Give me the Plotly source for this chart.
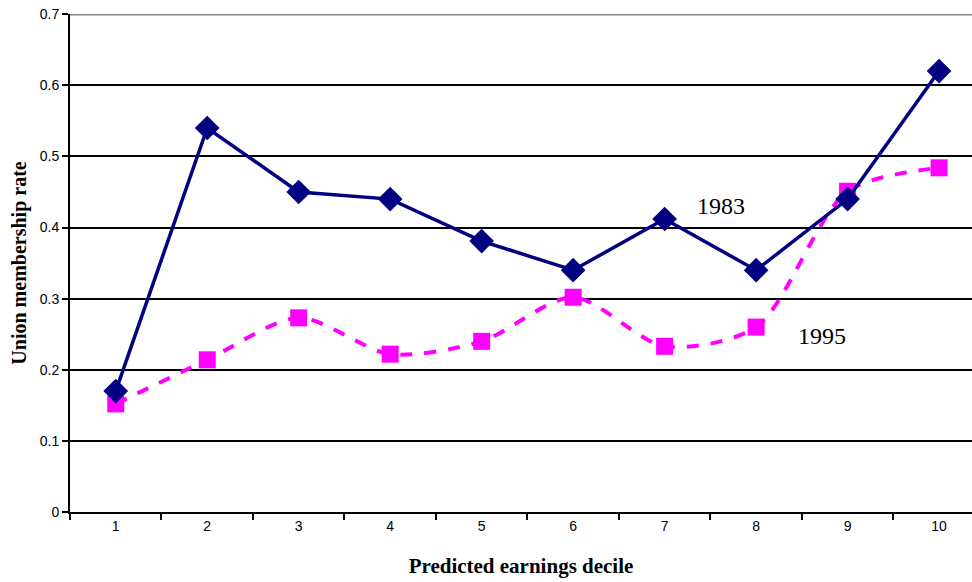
import plotly.graph_objects as go

deciles = [1, 2, 3, 4, 5, 6, 7, 8, 9, 10]
rate_1983 = [0.17, 0.54, 0.45, 0.44, 0.381, 0.34, 0.412, 0.34, 0.44, 0.62]
rate_1995 = [0.152, 0.214, 0.273, 0.222, 0.24, 0.302, 0.233, 0.26, 0.451, 0.484]
y_ticks = [0, 0.1, 0.2, 0.3, 0.4, 0.5, 0.6, 0.7]
y_tick_labels = ["0", "0.1", "0.2", "0.3", "0.4", "0.5", "0.6", "0.7"]

fig = go.Figure()
fig.add_trace(go.Scatter(
    x=deciles, y=rate_1995, mode="lines+markers", name="1995",
    line=dict(color="#FF00FF", width=4, dash="12px,12px", shape="spline", smoothing=0.8),
    marker=dict(symbol="square", size=17, color="#FF00FF"),
    cliponaxis=False,
))
fig.add_trace(go.Scatter(
    x=deciles, y=rate_1983, mode="lines+markers", name="1983",
    line=dict(color="#000080", width=3.5),
    marker=dict(symbol="diamond", size=19, color="#000080"),
    cliponaxis=False,
))

fig.add_annotation(x=7.62, y=0.43, text="1983", showarrow=False,
                   font=dict(family="Liberation Serif", size=24, color="black"))
fig.add_annotation(x=8.72, y=0.248, text="1995", showarrow=False,
                   font=dict(family="Liberation Serif", size=24, color="black"))

# top border of the plot area (grey)
fig.add_shape(type="line", xref="paper", yref="y", x0=0, x1=1, y0=0.7, y1=0.7,
              line=dict(color="#8c7f8c", width=2.5), layer="above")

fig.update_layout(
    width=972, height=582,
    margin=dict(l=70, r=0, t=14, b=70),
    paper_bgcolor="white", plot_bgcolor="white",
    showlegend=False,
    xaxis=dict(
        range=[0.5, 10.36], tickvals=deciles, ticktext=[str(d) for d in deciles],
        ticks="", showgrid=False, zeroline=False,
        showline=True, linecolor="black", linewidth=2,
        tickfont=dict(family="Liberation Sans", size=14, color="black"),
        ticklabeloverflow="allow", automargin="bottom",
        minor=dict(tickvals=[d + 0.5 for d in [0] + deciles], ticks="outside",
                   ticklen=6, tickcolor="black", tickwidth=2, showgrid=False),
        title=dict(text="<b>Predicted earnings decile</b>", standoff=26,
                   font=dict(family="Liberation Serif", size=21, color="black")),
    ),
    yaxis=dict(
        range=[0, 0.7003], tickvals=y_ticks, ticktext=y_tick_labels,
        ticks="outside", ticklen=6, tickcolor="black", tickwidth=2,
        showgrid=True, gridcolor="black", gridwidth=1.5, zeroline=False,
        showline=True, linecolor="black", linewidth=2,
        tickfont=dict(family="Liberation Sans", size=14, color="black"),
        ticklabeloverflow="allow", automargin="left",
        title=dict(text="<b>Union membership rate</b>", standoff=8,
                   font=dict(family="Liberation Serif", size=20, color="black")),
    ),
)

fig.write_html("out.html", config={"displayModeBar": False},
               post_script="document.body.style.margin='0px';")
